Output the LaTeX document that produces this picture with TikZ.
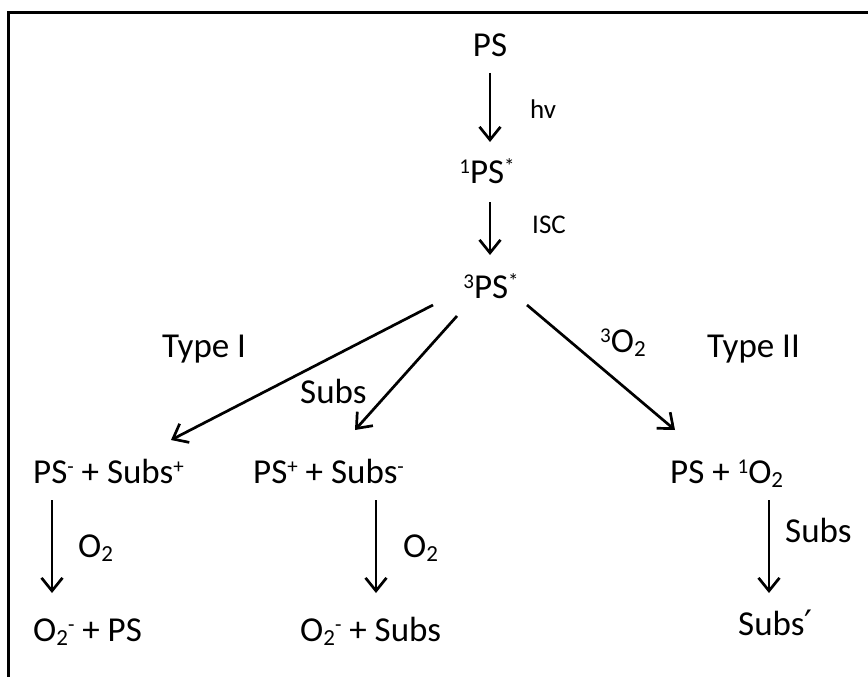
\documentclass[tikz,border=0pt]{standalone}
\usepackage{fontspec}
\setmainfont{Carlito}
\newfontfamily\primefont{DejaVu Sans}
\usetikzlibrary{arrows.meta,calc}
% raised and lowered small text for charges, spin states and indices
\newcommand\supx[1]{\raisebox{10pt}{\fontsize{21}{21}\selectfont #1}}
\newcommand\subx[1]{\raisebox{-4.5pt}{\fontsize{23}{23}\selectfont #1}}
\begin{document}
\begin{tikzpicture}[x=1pt,y=-1pt,
  lbl/.style={inner sep=0pt, anchor=base west, font=\fontsize{35}{42}\selectfont},
  small/.style={inner sep=0pt, anchor=base west, font=\fontsize{27}{32}\selectfont},
  arr/.style={line width=2.7pt, -{Straight Barb[length=13pt,width=21pt]}}]

\useasboundingbox (0,0) rectangle (868,677);
% open frame
\draw[line width=3pt] (8.5,677) -- (8.5,12.5) -- (868,12.5);

% excitation chain
\node[lbl, anchor=base] (ps)  at (490,57)  {PS};
\node[lbl, anchor=base] (ps1) at (487,183) {\supx{1}PS\supx{*}};
\node[lbl, anchor=base] (ps3) at (491,298) {\supx{3}PS\supx{*}};
\node[small] (hv)  at (530,118) {hv};
\node[small] (isc) at (532,233) {ISC};

% branch labels
\node[lbl] (t1)    at (162,357) {Type I};
\node[lbl] (subs1) at (300,403) {Subs};
\node[lbl] (o3)    at (600,352) {\supx{3}O\subx{2}};
\node[lbl] (t2)    at (707,357) {Type II};

% intermediates
\node[lbl] (pm) at (33,483)  {PS\supx{-} + Subs\supx{+}};
\node[lbl] (pp) at (253,483) {PS\supx{+} + Subs\supx{-}};
\node[lbl] (po) at (670,483) {PS + \supx{1}O\subx{2}};

% reagents on the last step
\node[lbl] (ox1)   at (78,557)  {O\subx{2}};
\node[lbl] (ox2)   at (403,557) {O\subx{2}};
\node[lbl] (subs2) at (785,542) {Subs};

% products
\node[lbl] (opm) at (33,641)  {O\subx{2}\supx{-} + PS};
\node[lbl] (opp) at (300,641) {O\subx{2}\supx{-} + Subs};
\node[lbl] (sp)  at (738,635) {Subs{\primefont ′}};

% arrows
\draw[arr] ($(ps.base)+(0,16)$) -- ($(ps.base |- ps1.base)+(0,-41)$);
\draw[arr] ($(ps.base |- ps1.base)+(0,19)$) -- ($(ps.base |- ps3.base)+(0,-43)$);
\draw[arr] ($(ps3.base)+(-58,7)$)  -- ($(pm.base west)+(138,-43)$);
\draw[arr] ($(ps3.base)+(-34,18)$) -- ($(pp.base west)+(102,-53)$);
\draw[arr] ($(ps3.base)+(36,7)$)   -- ($(po.base west)+(5,-53)$);
\draw[arr] ($(pm.base west)+(19,17)$)  -- ($(opm.base west)+(19,-48)$);
\draw[arr] ($(pp.base west)+(123,17)$) -- ($(opp.base west)+(76,-48)$);
\draw[arr] ($(po.base west)+(99,17)$)  -- ($(sp.base west)+(31,-42)$);
\end{tikzpicture}
\end{document}
